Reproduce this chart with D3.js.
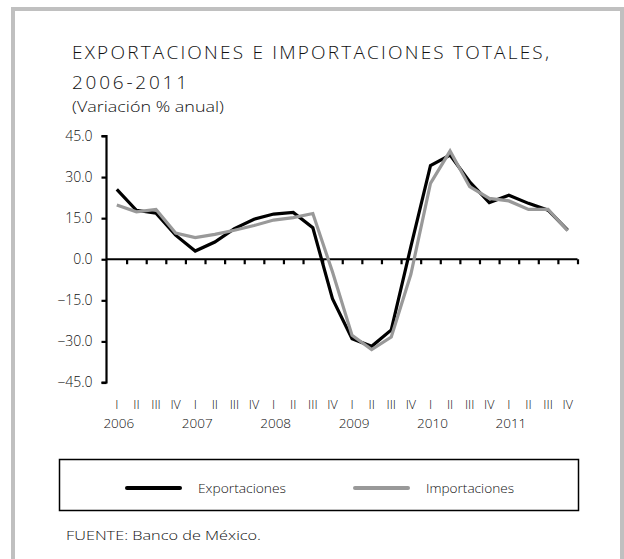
<!DOCTYPE html>
<html>
<head>
<meta charset="utf-8">
<script src="https://cdn.jsdelivr.net/npm/d3@7"></script>
<style>
  body { margin: 0; background: #fff; }
  text { font-family: "Open Sans", "Noto Sans", sans-serif; font-weight: 300; fill: #111; }
</style>
</head>
<body>
<div id="chart"></div>
<script>
// Data (variación % anual, trimestral)
var quarters = ["I", "II", "III", "IV"];
var years = ["2006", "2007", "2008", "2009", "2010", "2011"];
var exportaciones = [25.5, 17.9, 16.8, 8.8, 3.0, 6.3, 11.2, 14.6, 16.5, 17.1, 11.5, -14.4,
  -29.0, -31.8, -25.8, 4.6, 34.2, 38.0, 28.3, 20.7, 23.4, 20.4, 17.9, 10.6];
var importaciones = [19.8, 17.3, 18.2, 9.6, 7.9, 9.1, 10.6, 12.3, 14.3, 15.2, 16.7, -4.6,
  -27.8, -33.0, -28.4, -5.5, 27.7, 39.5, 26.5, 22.2, 21.3, 18.2, 18.2, 10.4];
var yTicks = [-45, -30, -15, 0, 15, 30, 45];

var svgWidth = 624;
var svgHeight = 559;

var svg = d3.select("#chart")
  .append("svg")
  .attr("width", svgWidth)
  .attr("height", svgHeight);

// Gray frame (open at the bottom of the picture)
svg.append("rect")
  .attr("x", 13)
  .attr("y", 9)
  .attr("width", 609)
  .attr("height", 600)
  .attr("fill", "#fff")
  .attr("stroke", "#c0c0c0")
  .attr("stroke-width", 4);

// Titles
svg.append("text")
  .attr("x", 72)
  .attr("y", 59)
  .attr("font-size", 19)
  .attr("textLength", 477)
  .attr("lengthAdjust", "spacing")
  .text("EXPORTACIONES E IMPORTACIONES TOTALES,");

svg.append("text")
  .attr("x", 72)
  .attr("y", 89)
  .attr("font-size", 19)
  .attr("textLength", 115)
  .attr("lengthAdjust", "spacing")
  .text("2006-2011");

svg.append("text")
  .attr("x", 72)
  .attr("y", 112)
  .attr("font-size", 15)
  .attr("textLength", 152)
  .attr("lengthAdjust", "spacingAndGlyphs")
  .text("(Variación % anual)");

// Scales
var x0 = 107;
var x1 = 577.5;
var n = exportaciones.length;

var xScale = d3.scaleLinear()
  .domain([0, n])
  .range([x0, x1]);

var yScale = d3.scaleLinear()
  .domain([-45, 45])
  .range([382.5, 136]);

// Y axis
var yAxis = svg.append("g")
  .attr("transform", `translate(${x0 - 0.5}, 0)`)
  .call(d3.axisLeft(yScale)
    .tickValues(yTicks)
    .tickSize(5)
    .tickPadding(9)
    .tickFormat(d3.format(".1f")));

yAxis.select(".domain")
  .attr("d", `M-5,${yScale(45)}H0V${yScale(-45)}H-5`)
  .attr("stroke-width", 2.2);
yAxis.selectAll(".tick line").attr("stroke-width", 2.2);
yAxis.selectAll(".tick text")
  .attr("font-size", 14)
  .attr("fill", "#222")
  .style("font-family", "'Open Sans', sans-serif")
  .style("font-weight", 300);

// X axis at zero, ticks between quarters
var xAxis = svg.append("g")
  .attr("transform", `translate(0, ${yScale(0)})`)
  .call(d3.axisBottom(xScale)
    .tickValues(d3.range(1, n + 1))
    .tickSize(5)
    .tickFormat(""));

xAxis.select(".domain")
  .attr("d", `M${x0 - 1},0H${x1}`)
  .attr("stroke-width", 2.2);
xAxis.selectAll(".tick line").attr("stroke-width", 2.2);

// Quarter and year labels
svg.append("g")
  .selectAll("text")
  .data(d3.range(n))
  .enter()
  .append("text")
  .attr("x", d => xScale(d + 0.5))
  .attr("y", 409)
  .attr("text-anchor", "middle")
  .attr("font-size", 12.5)
  .attr("fill", "#222")
  .text(d => quarters[d % 4]);

svg.append("g")
  .selectAll("text")
  .data(years)
  .enter()
  .append("text")
  .attr("x", (d, i) => xScale(i * 4 + 0.5) + 2)
  .attr("y", 428)
  .attr("text-anchor", "middle")
  .attr("font-size", 13.5)
  .attr("fill", "#222")
  .text(d => d);

// Lines
var line = d3.line()
  .x((d, i) => xScale(i + 0.5))
  .y(d => yScale(d));

svg.append("path")
  .datum(exportaciones)
  .attr("fill", "none")
  .attr("stroke", "#000")
  .attr("stroke-width", 3.2)
  .attr("stroke-linejoin", "miter")
  .attr("d", line);

svg.append("path")
  .datum(importaciones)
  .attr("fill", "none")
  .attr("stroke", "#999")
  .attr("stroke-width", 3.2)
  .attr("stroke-linejoin", "miter")
  .attr("d", line);

// Legend
svg.append("rect")
  .attr("x", 59.5)
  .attr("y", 459.5)
  .attr("width", 519)
  .attr("height", 51)
  .attr("fill", "none")
  .attr("stroke", "#000")
  .attr("stroke-width", 1.5);

var legendItems = [
  { name: "Exportaciones", color: "#000", x: 127 },
  { name: "Importaciones", color: "#999", x: 355 }
];

var legend = svg.append("g")
  .selectAll("g")
  .data(legendItems)
  .enter()
  .append("g")
  .attr("transform", d => `translate(${d.x}, 488)`);

legend.append("line")
  .attr("x1", 0)
  .attr("x2", 53)
  .attr("stroke", d => d.color)
  .attr("stroke-width", 4)
  .attr("stroke-linecap", "round");

legend.append("text")
  .attr("x", 71)
  .attr("y", 5)
  .attr("font-size", 13)
  .attr("textLength", 88)
  .attr("lengthAdjust", "spacingAndGlyphs")
  .text(d => d.name);

// Source note
svg.append("text")
  .attr("x", 66)
  .attr("y", 540)
  .attr("font-size", 13)
  .attr("textLength", 195)
  .attr("lengthAdjust", "spacingAndGlyphs")
  .text("FUENTE: Banco de México.");
</script>
</body>
</html>
